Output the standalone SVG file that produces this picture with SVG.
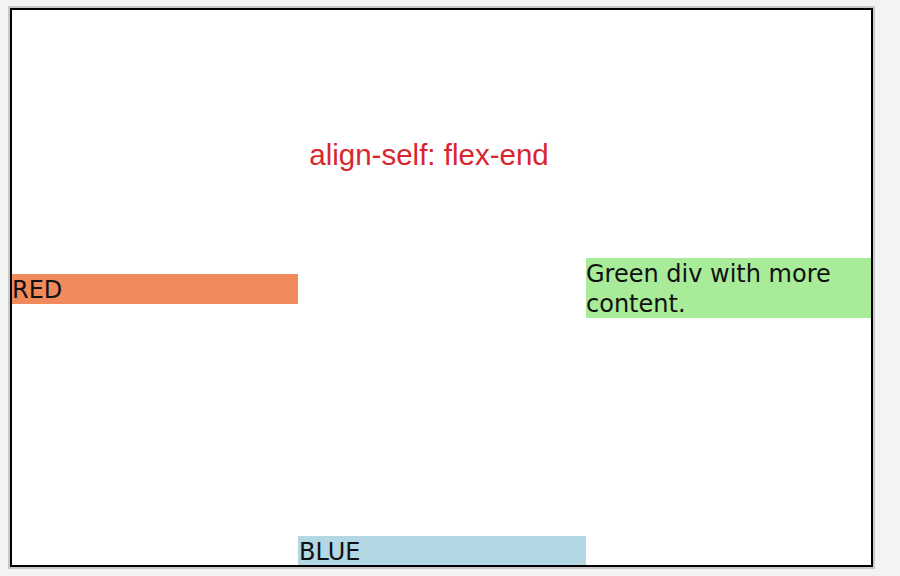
<svg xmlns="http://www.w3.org/2000/svg" width="900" height="576" viewBox="0 0 900 576">
<style>
.box{font-family:"DejaVu Sans",Verdana,sans-serif;font-size:24px;fill:#111}
.title{font-family:"Liberation Sans",Arial,sans-serif;font-size:29.5px;fill:#d8262f}
</style>
<rect x="0" y="0" width="900" height="576" fill="#f3f3f3"/>
<rect x="9" y="7" width="865" height="561" fill="none" stroke="#c8c8c8" stroke-width="2"/>
<rect x="11" y="9" width="861" height="557" fill="#fff" stroke="#000" stroke-width="2"/>
<g id="title"><text class="title" x="429" y="165" text-anchor="middle">align-self: flex-end</text></g>
<g id="red"><rect x="12" y="274" width="286" height="30" fill="#f0895c"/><text class="box" x="12" y="298">RED</text></g>
<g id="blue"><rect x="298" y="536" width="288" height="29" fill="#b3d7e3"/><text class="box" x="299" y="560">BLUE</text></g>
<g id="green"><rect x="586" y="258" width="285" height="60" fill="#a8eb98"/><text class="box" x="586" y="282">Green div with more</text><text class="box" x="586" y="312">content.</text></g>
<g id="connectors"/>
</svg>
